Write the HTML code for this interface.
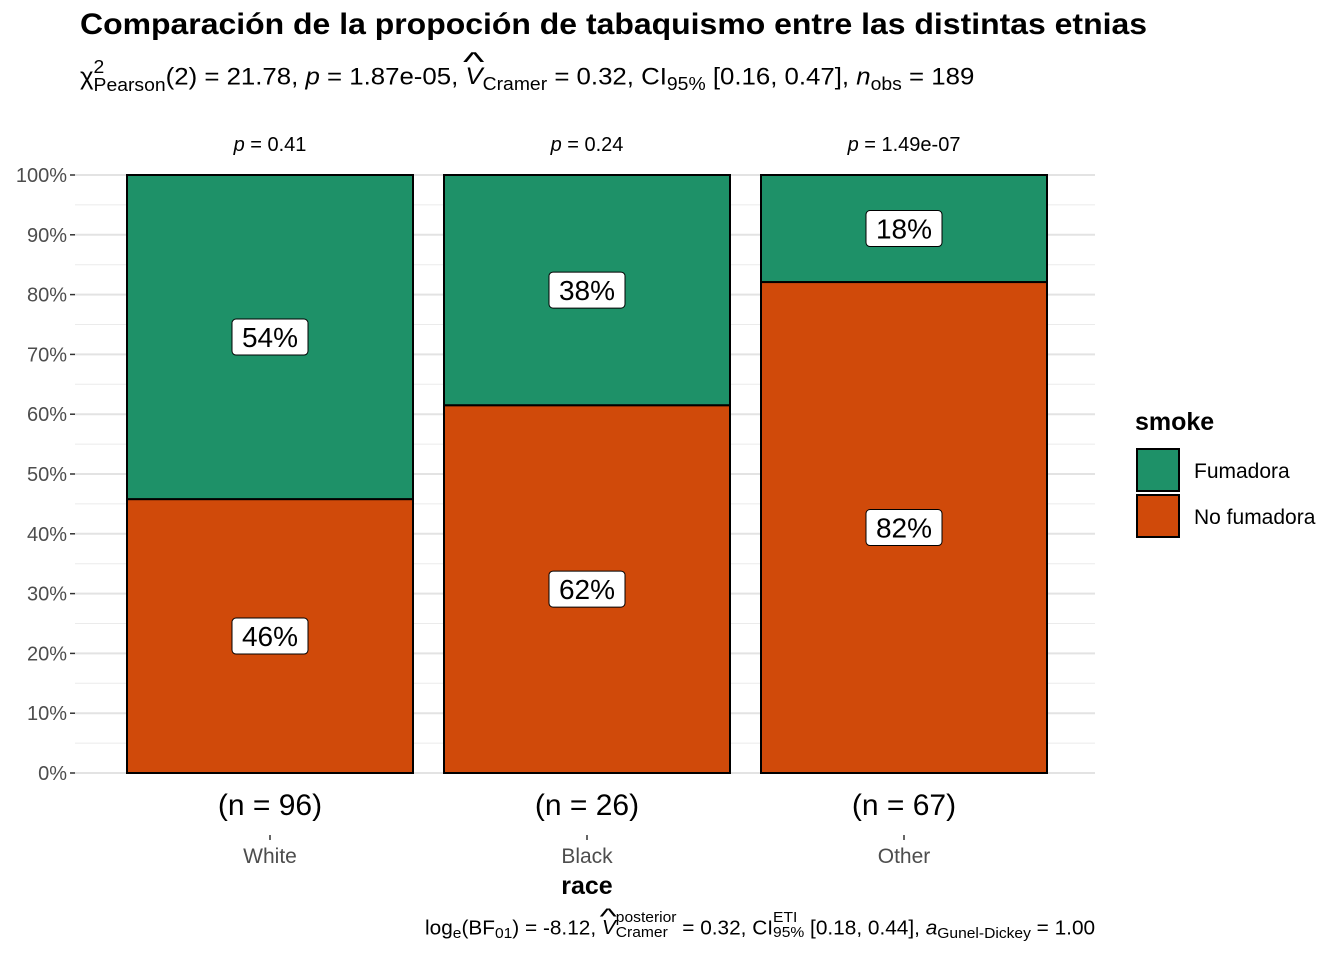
<!DOCTYPE html>
<html><head><meta charset="utf-8">
<style>
body{margin:0;width:1344px;height:960px;background:#fff;font-family:"Liberation Sans",Arial,sans-serif;position:relative;overflow:hidden}
.t{position:absolute;white-space:nowrap;color:#000;transform-origin:0 0}
.s{position:relative;top:6px}
.ss{display:inline-flex;flex-direction:column;vertical-align:middle;line-height:1}
.hat{position:relative;display:inline-block}
.hat:before{content:"^";position:absolute;left:1px;top:-0.62em;font-size:1.1em;transform:scaleX(1.6)}
svg{position:absolute;left:0;top:0}
</style></head><body>
<div class="t" style="left:80px;top:8px;font-size:30px;font-weight:bold;transform:scaleX(1.065)">Comparación de la propoción de tabaquismo entre las distintas etnias</div>
<div class="t" style="left:80px;top:60px;font-size:24px;transform:scaleX(1.075)">χ<span class="ss" style="position:relative;top:-2px;font-size:18px"><span>2</span><span>Pearson</span></span>(2) = 21.78, <i>p</i> = 1.87e-05, <span class="hat"><i>V</i></span><span class="s" style="font-size:18px">Cramer</span> = 0.32, CI<span class="s" style="font-size:18px">95%</span> [0.16, 0.47], <i>n</i><span class="s" style="font-size:18px">obs</span> = 189</div>
<svg width="1344" height="960" id="chart"></svg>
<div class="t" style="left:425px;top:914px;font-size:20px;transform:scaleX(1.04)">log<span class="s" style="top:4px;font-size:15px">e</span>(BF<span class="s" style="top:4px;font-size:15px">01</span>) = -8.12, <span class="hat"><i>V</i></span><span class="ss" style="position:relative;top:-4px;font-size:15px"><span>posterior</span><span>Cramer</span></span> = 0.32, CI<span class="ss" style="position:relative;top:-4px;font-size:15px"><span>ETI</span><span>95%</span></span> [0.18, 0.44], <i>a</i><span class="s" style="top:4px;font-size:15px">Gunel-Dickey</span> = 1.00</div>
<script>
const categories=["White","Black","Other"];
const counts=[96,26,67];
const smokerPct=[54.2,38.5,17.9];
const smokerLabels=["54%","38%","18%"];
const nonSmokerLabels=["46%","62%","82%"];
const pLabels=["0.41","0.24","1.49e-07"];
const yTicks=[0,10,20,30,40,50,60,70,80,90,100];
const NS="http://www.w3.org/2000/svg";
const svg=document.getElementById('chart');
const y0=773,y1=175;
const y=v=>y0-(v/100)*(y0-y1);
const xc=i=>270+317*i;
const barW=286;
function mk(tag,attrs,txt){const e=document.createElementNS(NS,tag);for(const k in attrs)e.setAttribute(k,attrs[k]);if(txt!=null)e.textContent=txt;svg.appendChild(e);return e;}
for(let v=5;v<100;v+=10){const g=mk('line',{x1:75,x2:1095,y1:y(v),y2:y(v),stroke:'#ebebeb','stroke-width':1});

}
yTicks.forEach(v=>{const g=mk('line',{x1:75,x2:1095,y1:y(v),y2:y(v),stroke:'#e3e3e3','stroke-width':2});


const tk=mk('line',{x1:70,x2:75,y1:y(v),y2:y(v),stroke:'#333','stroke-width':1.5});


const t=mk('text',{x:67,y:y(v)+7,'text-anchor':'end','font-size':20,fill:'#4d4d4d'},v+'%');

});
function label(cx,cy,txt){const w=76,h=36;
const r=mk('rect',{x:cx-w/2,y:cy-h/2,width:w,height:h,rx:4,fill:'#fff',stroke:'#000','stroke-width':1});


const t=mk('text',{x:cx,y:cy+10,'text-anchor':'middle','font-size':28},txt);

}
categories.forEach((c,i)=>{const cx=xc(i),x=cx-barW/2;const b=100-smokerPct[i];
const r1=mk('rect',{x:x,y:y(b),width:barW,height:y(0)-y(b),fill:'#d04a0a',stroke:'#000','stroke-width':2});


const r2=mk('rect',{x:x,y:y(100),width:barW,height:y(b)-y(100),fill:'#1e9168',stroke:'#000','stroke-width':2});


label(cx,y(b/2),nonSmokerLabels[i]);
label(cx,y(b+smokerPct[i]/2),smokerLabels[i]);
const p=mk('text',{x:cx,y:151,'text-anchor':'middle','font-size':20});
p.innerHTML='<tspan font-style="italic">p</tspan> = '+pLabels[i];


const n=mk('text',{x:cx,y:815,'text-anchor':'middle','font-size':30},'(n = '+counts[i]+')');


const tk=mk('line',{x1:cx,x2:cx,y1:835,y2:840,stroke:'#333','stroke-width':1.5});


const xl=mk('text',{x:cx,y:863,'text-anchor':'middle','font-size':21,fill:'#4d4d4d'},c);

});
const xt=mk('text',{x:587,y:894,'text-anchor':'middle','font-size':25,'font-weight':'bold'},'race');


const lt=mk('text',{x:1135,y:430,'font-size':25,'font-weight':'bold'},'smoke');


[['Fumadora','#1e9168',449],['No fumadora','#d04a0a',495]].forEach(([n,c,yy])=>{
const k=mk('rect',{x:1137,y:yy,width:42,height:42,fill:c,stroke:'#000','stroke-width':2});


const t=mk('text',{x:1194,y:yy+29,'font-size':21},n);

});
</script>
</body></html>
